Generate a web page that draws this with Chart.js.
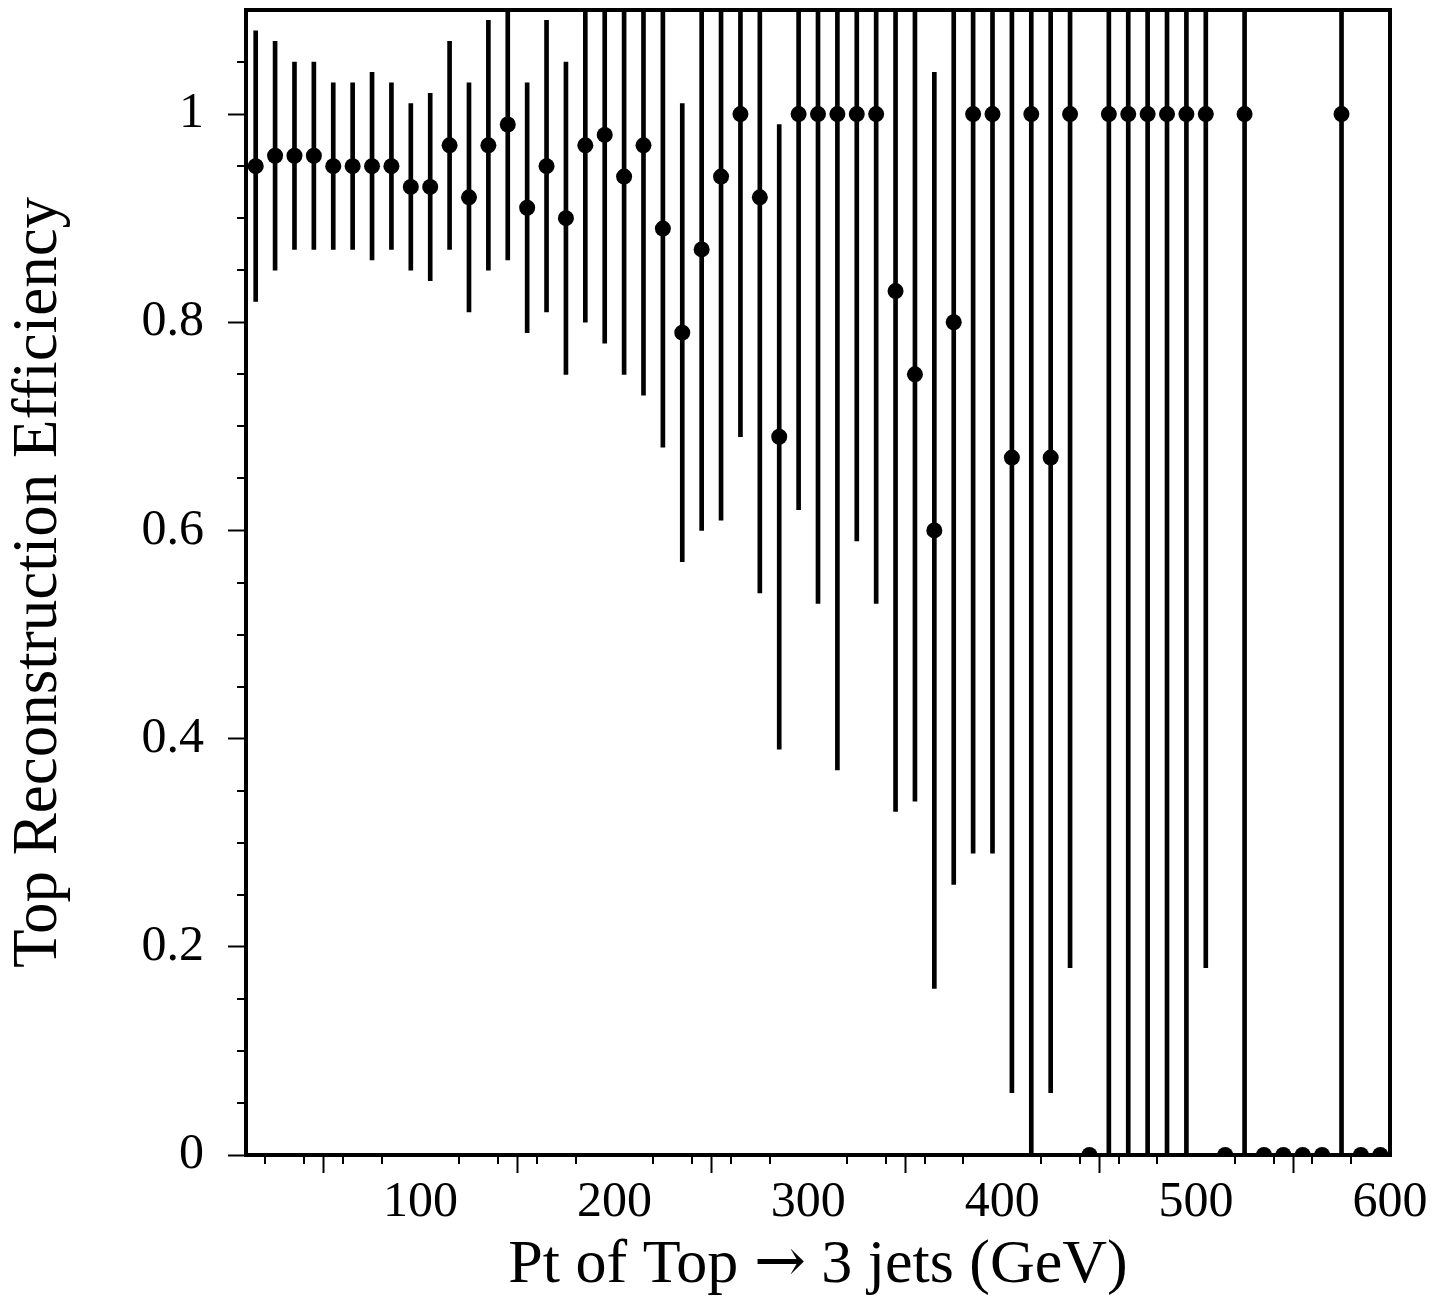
<!DOCTYPE html>
<html>
<head>
<meta charset="utf-8">
<title>Top Reconstruction Efficiency</title>
<script src="https://cdn.jsdelivr.net/npm/chart.js@4"></script>
<style>
    /* thin arrow glyph taken from a local font, only for U+2192 */
    @font-face {
        font-family: 'ArrowSerif';
        src: local('DejaVu Serif'), local('DejaVuSerif');
        unicode-range: U+2192;
    }
    html, body { margin: 0; padding: 0; background: #ffffff; }
    #wrap { width: 1452px; height: 1315px; }
</style>
</head>
<body>
<div id="wrap"><canvas id="effChart" width="1452" height="1315"></canvas></div>
<script>
// Bin centres (GeV)
const ptBins = [
    15, 25, 35, 45, 55, 65, 75, 85, 95, 105,
    115, 125, 135, 145, 155, 165, 175, 185, 195, 205,
    215, 225, 235, 245, 255, 265, 275, 285, 295, 305,
    315, 325, 335, 345, 355, 365, 375, 385, 395, 405,
    415, 425, 435, 445, 455, 465, 475, 485, 495, 505,
    515, 525, 535, 545, 555, 565, 575, 585, 595
];

// Efficiency per bin
const efficiency = [
    0.95, 0.96, 0.96, 0.96, 0.95, 0.95, 0.95, 0.95, 0.93, 0.93,
    0.97, 0.92, 0.97, 0.99, 0.91, 0.95, 0.90, 0.97, 0.98, 0.94,
    0.97, 0.89, 0.79, 0.87, 0.94, 1.00, 0.92, 0.69, 1.00, 1.00,
    1.00, 1.00, 1.00, 0.83, 0.75, 0.60, 0.80, 1.00, 1.00, 0.67,
    1.00, 0.67, 1.00, 0.00, 1.00, 1.00, 1.00, 1.00, 1.00, 1.00,
    0.00, 1.00, 0.00, 0.00, 0.00, 0.00, 1.00, 0.00, 0.00
];

// Symmetric error per bin
const effError = [
    0.13, 0.11, 0.09, 0.09, 0.08, 0.08, 0.09, 0.08, 0.08, 0.09,
    0.10, 0.11, 0.12, 0.13, 0.12, 0.14, 0.15, 0.17, 0.20, 0.19,
    0.24, 0.21, 0.22, 0.27, 0.33, 0.31, 0.38, 0.30, 0.38, 0.47,
    0.63, 0.41, 0.47, 0.50, 0.41, 0.44, 0.54, 0.71, 0.71, 0.61,
    1.00, 0.61, 0.82, 0.00, 1.00, 1.00, 1.00, 1.00, 1.00, 0.82,
    0.00, 1.00, 0.00, 0.00, 0.00, 0.00, 1.00, 0.00, 0.00
];

// Axis ticks
const xTicks = [100, 200, 300, 400, 500, 600];
const yTicks = [0, 0.2, 0.4, 0.6, 0.8, 1];
const xMinorTicks = [20, 40, 60, 80, 120, 140, 160, 180, 220, 240, 260, 280,
    320, 340, 360, 380, 420, 440, 460, 480, 520, 540, 560, 580];
const yMinorTicks = [0.05, 0.1, 0.15, 0.25, 0.3, 0.35, 0.45, 0.5, 0.55,
    0.65, 0.7, 0.75, 0.85, 0.9, 0.95, 1.05];

const serif = "'Liberation Serif', 'Times New Roman', serif";
const titleSerif = "'ArrowSerif', 'Liberation Serif', 'Times New Roman', serif";

// Points and error bars built from the arrays
const pointData = ptBins.map((x, i) => ({ x: x, y: efficiency[i] }));
const errorData = ptBins
    .map((x, i) => ({ x: x, y: [efficiency[i] - effError[i], efficiency[i] + effError[i]] }))
    .filter((d, i) => effError[i] > 0);

// Frame around the plot and the short minor ticks
const frameAndMinorTicks = {
    id: 'frameAndMinorTicks',
    afterDatasetsDraw(chart) {
        const { ctx, chartArea: a, scales } = chart;
        ctx.save();
        ctx.strokeStyle = '#000';
        ctx.lineWidth = 2;
        ctx.beginPath();
        xMinorTicks.forEach(v => {
            const px = Math.round(scales.x.getPixelForValue(v));
            ctx.moveTo(px, a.bottom);
            ctx.lineTo(px, a.bottom + 9);
        });
        yMinorTicks.forEach(v => {
            const py = Math.round(scales.y.getPixelForValue(v));
            ctx.moveTo(a.left - 9, py);
            ctx.lineTo(a.left, py);
        });
        ctx.stroke();
        ctx.lineWidth = 4;
        ctx.strokeRect(a.left, a.top, a.right - a.left, a.bottom - a.top);
        ctx.restore();
    }
};

const gridStyle = {
    display: true,
    drawOnChartArea: false,
    drawTicks: true,
    tickLength: 18,
    tickWidth: 2,
    tickColor: '#000'
};

function drawChart() {
    new Chart(document.getElementById('effChart'), {
        type: 'scatter',
        data: {
            datasets: [
                {
                    type: 'scatter',
                    data: pointData,
                    pointRadius: 8,
                    pointHoverRadius: 8,
                    pointBackgroundColor: '#000',
                    pointBorderWidth: 0,
                    showLine: false,
                    clip: 0,
                    order: 0
                },
                {
                    type: 'bar',
                    data: errorData,
                    backgroundColor: '#000',
                    borderWidth: 0,
                    barThickness: 4,
                    grouped: false,
                    clip: 0,
                    order: 1
                }
            ]
        },
        options: {
            responsive: false,
            animation: false,
            devicePixelRatio: 1,
            layout: { padding: { left: 0, right: 62, top: 10, bottom: 0 } },
            plugins: {
                legend: { display: false },
                tooltip: { enabled: false }
            },
            scales: {
                x: {
                    type: 'linear',
                    min: 10,
                    max: 600,
                    offset: false,
                    afterBuildTicks: scale => { scale.ticks = xTicks.map(v => ({ value: v })); },
                    afterFit: scale => {
                        scale.height = 160;
                        scale.paddingLeft = 0;
                        scale.paddingRight = 0;
                    },
                    grid: gridStyle,
                    border: { display: false },
                    ticks: {
                        color: '#000',
                        padding: 0,
                        maxRotation: 0,
                        autoSkip: false,
                        font: { family: serif, size: 50 },
                        callback: v => String(v)
                    },
                    title: {
                        display: true,
                        text: 'Pt of Top \u2192 3 jets (GeV)',
                        color: '#000',
                        font: { family: titleSerif, size: 62 },
                        padding: { top: 0, bottom: 12 }
                    }
                },
                y: {
                    type: 'linear',
                    min: 0,
                    max: 1.1,
                    afterBuildTicks: scale => { scale.ticks = yTicks.map(v => ({ value: v })); },
                    afterFit: scale => {
                        scale.width = 246;
                        scale.paddingTop = 0;
                        scale.paddingBottom = 0;
                    },
                    grid: gridStyle,
                    border: { display: false },
                    ticks: {
                        color: '#000',
                        padding: 24,
                        autoSkip: false,
                        font: { family: serif, size: 50 },
                        callback: v => String(v)
                    },
                    title: {
                        display: true,
                        text: 'Top Reconstruction Efficiency',
                        color: '#000',
                        font: { family: serif, size: 63 },
                        padding: { top: 2, bottom: 0 }
                    }
                }
            }
        },
        plugins: [frameAndMinorTicks]
    });
}

// Wait for the arrow face before drawing on the canvas
document.fonts.load("62px 'ArrowSerif'", '\u2192')
    .catch(() => null)
    .then(drawChart);
</script>
</body>
</html>
